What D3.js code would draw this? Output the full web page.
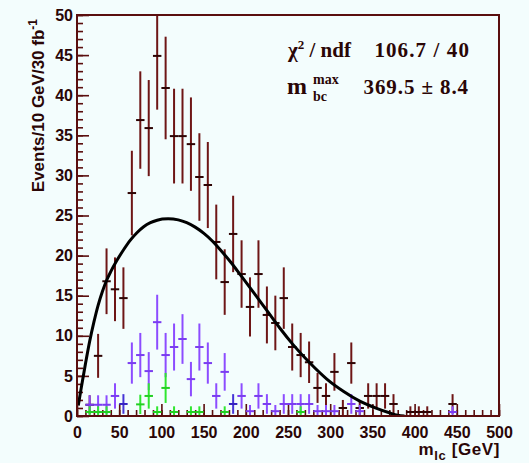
<!DOCTYPE html>
<html>
<head>
<meta charset="utf-8">
<script src="https://cdn.jsdelivr.net/npm/d3@7/dist/d3.min.js"></script>
<style>
  html, body { margin: 0; padding: 0; background: #f3fdfd; }
  svg { display: block; }
</style>
</head>
<body>
<svg id="chart" width="529" height="463"></svg>
<script>
// Bin centres of the m_lc histogram (10 GeV bins)
const binCentres = [5, 15, 25, 35, 45, 55, 65, 75, 85, 95, 105, 115, 125, 135, 145, 155, 165, 175, 185, 195,
  205, 215, 225, 235, 245, 255, 265, 275, 285, 295, 305, 315, 325, 335, 345, 355, 365, 375, 385, 395,
  405, 415, 425, 435, 445, 455];

// Total sample (dark red)
const totalEvents = [null, 1.4, 7.5, 16.8, 15.8, 14.7, 27.8, 36.9, 35.9, 44.9, 40.9, 34.9, 34.9, 33.9, 29.8, 28.8, 21.7, 16.7, 22.7, 17.7,
  13.6, 17.7, 12.6, 11.6, 14.7, 8.6, 7.6, 6.7, 3.5, 2.5, 5.5, 1.0, 6.6, 1.0, 2.5, 2.5, 2.5, 1.5, null, 0.5,
  0.5, 0.5, null, null, 1.5, null];

// Background component (violet)
const violetEvents = [null, 1.4, 1.4, 1.4, 2.5, null, 6.6, 7.6, 5.6, 11.7, 7.6, 8.6, 9.6, 4.6, 8.6, 6.6, 2.5, 5.5, null, 2.5,
  0.6, 2.5, 1.5, 0.6, 1.5, 1.5, 1.5, 1.5, 0.6, 0.6, 0.6, null, 1.5, 0.6, null, null, null, null, null, null,
  null, null, null, null, 0.5, null];

// Background component (blue)
const blueEvents = [null, null, null, null, null, 1.5, null, null, null, null, null, null, null, null, null, null, null, null, 1.5, null,
  null, null, null, null, null, null, null, null, null, null, null, null, null, null, null, null, null, null, null, null,
  null, null, null, null, null, null];

// Background component (green)
const greenEvents = [null, 0.5, 0.5, 0.5, null, null, null, 1.45, 2.5, 0.5, 3.5, 0.5, null, 0.5, 0.5, null, null, 0.5, null, null,
  null, null, null, null, null, null, 0.5, null, null, null, null, null, null, null, null, null, null, null, null, null,
  null, null, null, null, null, null];

// Fitted endpoint shape, sampled as (m_lc, events)
const fitMass = [1.5, 5, 10, 15, 20, 25, 30, 35, 40, 47, 55, 63, 71, 79, 87, 95, 101, 108,
  120, 130, 140, 150, 160, 170, 182, 195, 210, 226, 240, 256, 276, 296, 316, 335, 355, 370, 380, 388];
const fitEvents = [1.3, 3.5, 6.5, 9.3, 11.7, 13.8, 15.5, 16.9, 18.0, 19.35, 20.7, 21.9, 22.85, 23.6, 24.1, 24.4, 24.55, 24.6,
  24.45, 24.1, 23.55, 22.8, 21.85, 20.7, 19.2, 17.4, 15.3, 13.0, 11.0, 8.9, 6.6, 4.6, 3.05, 1.85, 0.95, 0.4, 0.1, 0];

const xTicks = [0, 50, 100, 150, 200, 250, 300, 350, 400, 450, 500];
const yTicks = [0, 5, 10, 15, 20, 25, 30, 35, 40, 45, 50];

const fitLabel = ["106.7 / 40"];
const endpointLabel = ["369.5 \u00b1 8.4"];

const binWidth = 10;
const frameColor = "#5a0e0e";
const textColor = "#2a0606";

const svg = d3.select("#chart");
const frameL = 77, frameR = 499, frameT = 15, frameB = 416;

const x = d3.scaleLinear().domain([0, 500]).range([frameL, frameR]);
const y = d3.scaleLinear().domain([0, 50]).range([frameB, frameT]);

svg.append("defs").append("clipPath").attr("id", "plotArea")
  .append("rect").attr("x", frameL).attr("y", frameT).attr("width", frameR - frameL).attr("height", frameB - frameT);

// Axes: ticks point inward, ROOT style
const axisFont = "bold 16px 'Liberation Sans', Arial, sans-serif";

const yMinor = svg.append("g").attr("transform", `translate(${frameL},0)`)
  .call(d3.axisLeft(y).ticks(50).tickSizeInner(-6).tickSizeOuter(0).tickFormat(""));
const yMajor = svg.append("g").attr("transform", `translate(${frameL},0)`)
  .call(d3.axisLeft(y).tickValues(yTicks).tickSizeInner(-12).tickSizeOuter(0).tickPadding(4));

const xMinor = svg.append("g").attr("transform", `translate(0,${frameB})`)
  .call(d3.axisBottom(x).ticks(50).tickSizeInner(-6).tickSizeOuter(0).tickFormat(""));
const xMajor = svg.append("g").attr("transform", `translate(0,${frameB})`)
  .call(d3.axisBottom(x).tickValues(xTicks).tickSizeInner(-12).tickSizeOuter(0).tickPadding(11));

[yMinor, yMajor, xMinor, xMajor].forEach(g => {
  g.select(".domain").remove();
  g.selectAll("line").attr("stroke", frameColor).attr("stroke-width", 1.6);
  g.selectAll("text").style("font", axisFont).attr("fill", textColor);
});

// Histograms with Poisson error bars
const plot = svg.append("g").attr("clip-path", "url(#plotArea)");

function drawHist(values, vColor, hColor) {
  const pts = binCentres.map((c, i) => ({ c, v: values[i] })).filter(d => d.v != null);
  const g = plot.append("g");
  g.selectAll("line.err").data(pts).join("line")
    .attr("class", "err")
    .attr("x1", d => x(d.c)).attr("x2", d => x(d.c))
    .attr("y1", d => y(Math.max(0, d.v - Math.sqrt(d.v))))
    .attr("y2", d => y(d.v + Math.sqrt(d.v)))
    .attr("stroke", vColor).attr("stroke-width", 2);
  g.selectAll("line.bin").data(pts).join("line")
    .attr("class", "bin")
    .attr("x1", d => x(d.c - binWidth / 2)).attr("x2", d => x(d.c + binWidth / 2))
    .attr("y1", d => y(d.v)).attr("y2", d => y(d.v))
    .attr("stroke", hColor).attr("stroke-width", 2);
}

drawHist(totalEvents, "#6e1616", "#2e0404");
drawHist(violetEvents, "#8c4cff", "#7a3cf0");
drawHist(blueEvents, "#4634d6", "#3422c0");
drawHist(greenEvents, "#2fe62f", "#22d022");

// Fit curve
const line = d3.line().x((d, i) => x(fitMass[i])).y(d => y(d)).curve(d3.curveMonotoneX);
plot.append("path").datum(fitEvents)
  .attr("d", line).attr("fill", "none").attr("stroke", "#000").attr("stroke-width", 3)
  .attr("stroke-linejoin", "round");

// Frame
svg.append("rect").attr("x", frameL).attr("y", frameT).attr("width", frameR - frameL).attr("height", frameB - frameT)
  .attr("fill", "none").attr("stroke", frameColor).attr("stroke-width", 2);

// Axis titles
const xTitle = svg.append("text").attr("x", frameR + 1).attr("y", 455).attr("text-anchor", "end")
  .style("font", "bold 17px 'Liberation Sans', Arial, sans-serif").attr("fill", textColor)
  .attr("letter-spacing", "0.6px");
xTitle.append("tspan").text("m");
xTitle.append("tspan").attr("dy", 5).style("font-size", "13px").text("lc");
xTitle.append("tspan").attr("dy", -5).text(" [GeV]");

const yTitle = svg.append("text").attr("transform", "translate(44,19) rotate(-90)")
  .attr("text-anchor", "end").style("font", "bold 17px 'Liberation Sans', Arial, sans-serif").attr("fill", textColor);
yTitle.append("tspan").text("Events/10 GeV/30 fb");
yTitle.append("tspan").attr("dy", -7).style("font-size", "12px").text("-1");

// Fit result box
const serif = "bold 21px 'Liberation Serif', 'Times New Roman', serif";
const row1 = svg.append("text").attr("x", 288).attr("y", 57).style("font", serif).attr("fill", textColor);
row1.append("tspan").text("\u03c7");
row1.append("tspan").attr("dy", -8).style("font-size", "13px").text("2");
row1.append("tspan").attr("dy", 8).text(" / ndf");
svg.append("text").attr("x", 470).attr("y", 57).attr("text-anchor", "end").style("font", serif).attr("fill", textColor)
  .attr("letter-spacing", "1.1px").text(fitLabel[0]);

const row2 = svg.append("g").attr("fill", textColor);
row2.append("text").attr("x", 287).attr("y", 94).style("font", "bold 24px 'Liberation Serif', serif").text("m");
row2.append("text").attr("x", 313).attr("y", 84).style("font", "bold 14px 'Liberation Serif', serif").text("max");
row2.append("text").attr("x", 313).attr("y", 101).style("font", "bold 14px 'Liberation Serif', serif").text("bc");
svg.append("text").attr("x", 469).attr("y", 94).attr("text-anchor", "end").style("font", serif).attr("fill", textColor)
  .attr("letter-spacing", "0.9px").text(endpointLabel[0]);
</script>
</body>
</html>
